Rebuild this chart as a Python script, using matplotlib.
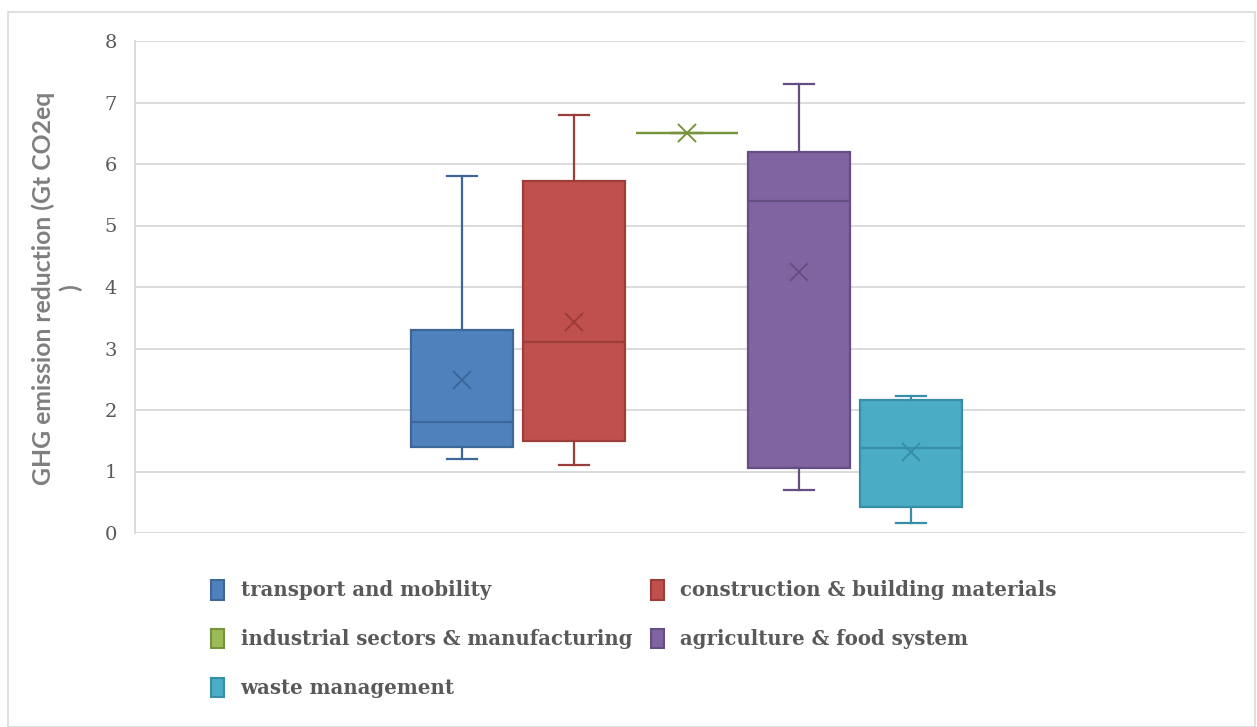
import matplotlib
matplotlib.use("Agg")
import matplotlib.pyplot as plt
from matplotlib.patches import Patch, Rectangle

categories = ["transport and mobility", "construction & building materials",
              "industrial sectors & manufacturing", "agriculture & food system",
              "waste management"]
lows = [1.2, 1.1, 6.5, 0.7, 0.17]
q1s = [1.4, 1.5, 6.5, 1.05, 0.42]
medians = [1.8, 3.1, 6.5, 5.4, 1.39]
q3s = [3.3, 5.73, 6.5, 6.2, 2.17]
highs = [5.8, 6.8, 6.5, 7.3, 2.23]
means = [2.49, 3.43, 6.5, 4.24, 1.31]

fills = ["#4F81BD", "#C0504D", "#9BBB59", "#8064A2", "#4BACC6"]
edges = ["#3C6798", "#9C3D3A", "#77933C", "#644E82", "#368FA6"]

fig = plt.figure(figsize=(12.57, 7.27), dpi=100)
ax = fig.add_axes([135 / 1257, 1 - 533 / 727, 1110 / 1257, 492 / 727])

stats = []
for i in range(len(categories)):
    stats.append(dict(whislo=lows[i], q1=q1s[i], med=medians[i], q3=q3s[i],
                      whishi=highs[i], mean=means[i], label=categories[i]))

for i, st in enumerate(stats):
    ec = edges[i]
    ax.bxp([st], positions=[i], widths=0.91, patch_artist=True, showmeans=True,
           showfliers=False,
           boxprops=dict(facecolor=fills[i], edgecolor=ec, linewidth=1.6),
           medianprops=dict(color=ec, linewidth=1.6),
           whiskerprops=dict(color=ec, linewidth=1.6),
           capprops=dict(color=ec, linewidth=1.6),
           capwidths=0.27,
           meanprops=dict(marker="x", markeredgecolor=ec, markersize=13,
                          markeredgewidth=1.4),
           zorder=3)

ax.set_xlim(-2.91, 6.97)
ax.set_ylim(0, 8)
ax.set_yticks(range(0, 9))
ax.set_xticks([])
ax.grid(axis="y", color="#D9D9D9", linewidth=1.3, zorder=0)
ax.set_axisbelow(True)
for s in ["top", "right", "bottom"]:
    ax.spines[s].set_visible(False)
ax.spines["left"].set_color("#D9D9D9")
ax.spines["left"].set_linewidth(1.3)
ax.tick_params(axis="y", length=0, pad=13, labelsize=14, labelcolor="#595959")
for t in ax.get_yticklabels():
    t.set_family("DejaVu Serif")

fig.text(57 / 1257, 1 - 288 / 727, "GHG emission reduction (Gt CO2eq\n)",
         rotation=90, ha="center", va="center", multialignment="center",
         fontsize=17.8, fontweight="bold", color="#7F7F7F", family="Lato",
         linespacing=1.2)

# legend in row order like the original
order = [0, 2, 4, 1, 3]
handles = [Patch(facecolor=fills[i], edgecolor=edges[i], linewidth=1.5) for i in order]
labels = [categories[i] for i in order]
fig.legend(handles, labels, ncol=2, loc="upper left",
           bbox_to_anchor=(211 / 1257, 1 - 580 / 727), frameon=False,
           prop=dict(family="DejaVu Serif", weight="bold", size=14.2),
           labelcolor="#595959", handlelength=0.65, handleheight=1.15,
           handletextpad=0.85, columnspacing=0.95, labelspacing=1.44,
           borderpad=0, borderaxespad=0)

# chart border
fig.patches.append(Rectangle((8 / 1257, 0), 1247 / 1257, 1 - 12 / 727,
                             transform=fig.transFigure, fill=False,
                             edgecolor="#D9D9D9", linewidth=1.2))

fig.savefig("out.png", dpi=100)
